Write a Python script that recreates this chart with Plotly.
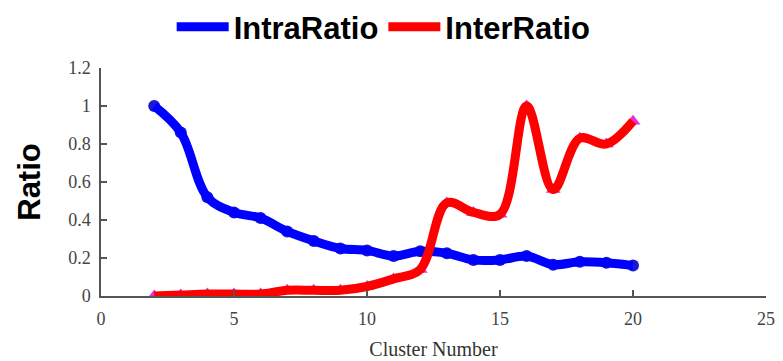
import plotly.graph_objects as go

clusters = list(range(2, 21))
intra_ratio = [1.00, 0.86, 0.52, 0.44, 0.41, 0.34, 0.29, 0.25, 0.24, 0.21,
               0.235, 0.225, 0.19, 0.19, 0.21, 0.165, 0.18, 0.175, 0.16]
inter_ratio = [0.0, 0.005, 0.01, 0.01, 0.01, 0.03, 0.03, 0.03, 0.05, 0.09,
               0.14, 0.49, 0.44, 0.43, 1.00, 0.56, 0.83, 0.80, 0.92]

x_ticks = [0, 5, 10, 15, 20, 25]
y_ticks = [0, 0.2, 0.4, 0.6, 0.8, 1.0, 1.2]
y_tick_text = ["0", "0.2", "0.4", "0.6", "0.8", "1", "1.2"]

BLUE = "#0000ff"
RED = "#ff0000"
SERIF = "Liberation Serif, Times New Roman, serif"
SANS = "Liberation Sans, Arial, sans-serif"

fig = go.Figure()
# markers underneath the thick lines
fig.add_trace(go.Scatter(x=clusters, y=intra_ratio, mode="markers",
                         marker=dict(symbol="circle", size=12, color="#1a1ad0"),
                         showlegend=False, hoverinfo="skip"))
fig.add_trace(go.Scatter(x=clusters, y=inter_ratio, mode="markers",
                         marker=dict(symbol="triangle-up", size=13, color="#e030e0"),
                         showlegend=False, hoverinfo="skip"))
fig.add_trace(go.Scatter(x=clusters, y=intra_ratio, mode="lines", name="IntraRatio",
                         line=dict(color=BLUE, width=9, shape="spline", smoothing=1.0)))
fig.add_trace(go.Scatter(x=clusters, y=inter_ratio, mode="lines", name="InterRatio",
                         line=dict(color=RED, width=9, shape="spline", smoothing=1.0)))

axis_common = dict(
    showline=True, linecolor="#555555", linewidth=1.5,
    ticks="inside", ticklen=6, tickcolor="#555555", tickwidth=1.5,
    showgrid=False, zeroline=False, mirror=False,
    tickfont=dict(family=SERIF, size=18, color="#444444"),
)

fig.update_layout(
    width=783, height=361,
    margin=dict(l=101, r=17, t=68, b=65, autoexpand=False),
    paper_bgcolor="white", plot_bgcolor="white",
    xaxis=dict(range=[0, 25], tickvals=x_ticks, ticklabelstandoff=6,
               title=dict(text="Cluster Number", standoff=14,
                          font=dict(family=SERIF, size=20, color="#333333")),
               **axis_common),
    yaxis=dict(range=[0, 1.2], tickvals=y_ticks, ticktext=y_tick_text, ticklabelstandoff=5,
               title=dict(text="Ratio", standoff=18,
                          font=dict(family=SANS, size=31, color="black", weight="bold")),
               **axis_common),
    legend=dict(orientation="h", x=0.49, xanchor="center", xref="container",
                y=1.0, yanchor="top", yref="container",
                font=dict(family=SANS, size=31, color="black", weight="bold"),
                itemwidth=52, tracegroupgap=0, bgcolor="rgba(0,0,0,0)"),
    showlegend=True,
)

fig.write_html("out.html")
